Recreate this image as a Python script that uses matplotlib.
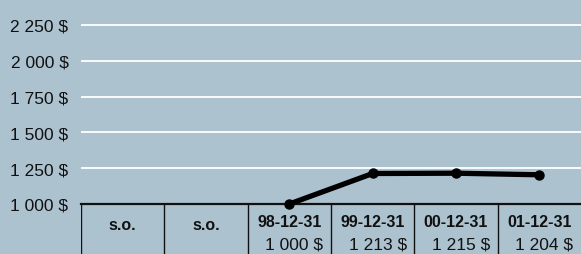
"""
Valeur d'un placement de 1 000 $ — courbe et tableau des dates.
"""

import matplotlib.pyplot as plt
import numpy as np

COLOR_BG = "#adc2cf"
COLOR_INK = "#111111"
COLOR_GRID = "#ffffff"

FONT = ["Liberation Sans", "DejaVu Sans"]

# données
dates = ["s.o.", "s.o.", "98-12-31", "99-12-31", "00-12-31", "01-12-31"]
valeurs = [np.nan, np.nan, 1000, 1213, 1215, 1204]
etiquettes_valeurs = ["", "", "1 000 $", "1 213 $", "1 215 $", "1 204 $"]
yticks = [1000, 1250, 1500, 1750, 2000, 2250]
ytick_labels = ["1 000 $", "1 250 $", "1 500 $", "1 750 $", "2 000 $", "2 250 $"]

W, H = 581, 255
fig = plt.figure(figsize=(W / 100, H / 100), dpi=100)
fig.patch.set_facecolor(COLOR_BG)

x0 = 81 / W
y_axe = 205
ax = fig.add_axes([x0, 1 - y_axe / H, 1 - x0, y_axe / H])
ax.set_facecolor(COLOR_BG)

px_par_250 = 35.8
ax.set_ylim(1000, 1000 + 250 * y_axe / px_par_250)
ax.set_xlim(0, len(dates))

ax.set_yticks(yticks)
ax.set_yticklabels(ytick_labels, fontsize=12.5, color=COLOR_INK, family=FONT)
ax.tick_params(axis="y", length=0, pad=9)
ax.set_xticks([])
for s in ["top", "right", "left"]:
    ax.spines[s].set_visible(False)
ax.spines["bottom"].set_color(COLOR_INK)
ax.spines["bottom"].set_linewidth(1.6)

for y in yticks[1:]:
    ax.axhline(y, color=COLOR_GRID, linewidth=1.3, zorder=1)

xs = np.arange(len(dates)) + 0.5
ax.plot(xs, valeurs, color="black", linewidth=3.8, marker="o", markersize=6.5,
        solid_capstyle="round", zorder=3, clip_on=False)

# tableau sous le graphique
tab = fig.add_axes([x0, 0, 1 - x0, (H - y_axe) / H])
tab.set_facecolor(COLOR_BG)
tab.set_xlim(0, len(dates))
tab.set_ylim(0, 1)
tab.axis("off")
for i in range(len(dates)):
    tab.axvline(i, color=COLOR_INK, linewidth=1.0)
for i, (d, v) in enumerate(zip(dates, etiquettes_valeurs)):
    tab.text(i + 0.5, 0.64 if v else 0.58, d, ha="center", va="center",
             fontsize=11.5, fontweight="bold", color=COLOR_INK, family=FONT)
    if v:
        tab.text(i + 0.56, 0.19, v, ha="center", va="center",
                 fontsize=12.5, color=COLOR_INK, family=FONT)

fig.savefig("out.png", dpi=100, facecolor=COLOR_BG)
